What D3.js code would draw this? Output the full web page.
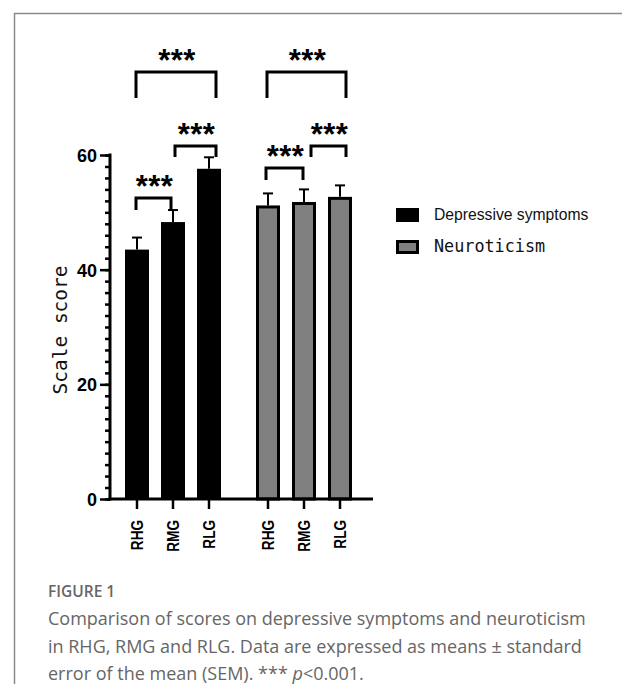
<!DOCTYPE html>
<html>
<head>
<meta charset="utf-8">
<script src="https://cdn.jsdelivr.net/npm/d3@7"></script>
<style>
  html, body { margin: 0; padding: 0; background: #fff; }
  svg { display: block; }
</style>
</head>
<body>
<script>
// ---------- data ----------
const groups = ["Depressive symptoms", "Neuroticism"];
const categories = ["RHG", "RMG", "RLG"];
const depressiveMeans = [43.5, 48.3, 57.6];
const depressiveSEM = [2.1, 2.1, 2.0];
const neuroticismMeans = [51.2, 51.8, 52.7];
const neuroticismSEM = [2.1, 2.2, 2.0];
const yTicks = [0, 20, 40, 60];
const yMinorStep = 2;
const comparisons = [[0, 1], [1, 2], [0, 2]];
const sigLabel = "***";
const yLabel = "Scale score";
const figureLabel = "FIGURE 1";
const captionLines = [
  "Comparison of scores on depressive symptoms and neuroticism",
  "in RHG, RMG and RLG. Data are expressed as means \u00B1 standard"
];

const seriesMeans = [depressiveMeans, neuroticismMeans];
const seriesSEM = [depressiveSEM, neuroticismSEM];
const seriesFill = ["#000000", "#808080"];

// ---------- layout ----------
const W = 622, H = 684;
const svg = d3.select("body").append("svg").attr("width", W).attr("height", H);

// frame lines
svg.append("line").attr("x1", 14).attr("y1", 13.5).attr("x2", W).attr("y2", 13.5)
  .attr("stroke", "#8a8a8a").attr("stroke-width", 1.5);
svg.append("line").attr("x1", 14.5).attr("y1", 13).attr("x2", 14.5).attr("y2", H)
  .attr("stroke", "#8a8a8a").attr("stroke-width", 1.5);

const y = d3.scaleLinear().domain([0, 60]).range([499, 155]);
const xGroup = d3.scaleBand().domain(groups).range([119, 358]).paddingInner(23 / 131).paddingOuter(0);
const xCat = d3.scaleBand().domain(categories).range([0, xGroup.bandwidth()])
  .paddingInner(1 / 3).paddingOuter(1 / 6);
const cx = (g, c) => xGroup(groups[g]) + xCat(categories[c]) + xCat.bandwidth() / 2;

// bars
const barData = [];
groups.forEach((g, gi) => categories.forEach((c, ci) => {
  barData.push({ gi, ci, mean: seriesMeans[gi][ci], sem: seriesSEM[gi][ci] });
}));

const plot = svg.append("g");
const bw = xCat.bandwidth();
plot.selectAll("rect.bar").data(barData).join("rect")
  .attr("class", "bar")
  .attr("x", d => cx(d.gi, d.ci) - bw / 2 + (d.gi === 1 ? 1.5 : 0))
  .attr("width", d => bw - (d.gi === 1 ? 3 : 0))
  .attr("y", d => y(d.mean) + (d.gi === 1 ? 1.5 : 0))
  .attr("height", d => y(0) - y(d.mean) - (d.gi === 1 ? 1.5 : 0))
  .attr("fill", d => seriesFill[d.gi])
  .attr("stroke", d => d.gi === 1 ? "#000" : "none")
  .attr("stroke-width", 3);

// error bars (upper only)
plot.selectAll("line.err").data(barData).join("line")
  .attr("class", "err")
  .attr("x1", d => cx(d.gi, d.ci)).attr("x2", d => cx(d.gi, d.ci))
  .attr("y1", d => y(d.mean)).attr("y2", d => y(d.mean + d.sem))
  .attr("stroke", "#000").attr("stroke-width", 2);
plot.selectAll("line.cap").data(barData).join("line")
  .attr("class", "cap")
  .attr("x1", d => cx(d.gi, d.ci) - 5).attr("x2", d => cx(d.gi, d.ci) + 5)
  .attr("y1", d => y(d.mean + d.sem)).attr("y2", d => y(d.mean + d.sem))
  .attr("stroke", "#000").attr("stroke-width", 2);

// y axis
const yAxis = d3.axisLeft(y).tickValues(d3.range(0, 61, yMinorStep))
  .tickSize(5).tickFormat("");
const yg = svg.append("g").attr("transform", "translate(110,0)").call(yAxis);
yg.select(".domain").remove();
yg.selectAll(".tick line").attr("stroke", "#000").attr("stroke-width", 2.5);
svg.append("line").attr("x1", 110).attr("x2", 110).attr("y1", y(60) - 1.5).attr("y2", y(0) + 1.5)
  .attr("stroke", "#000").attr("stroke-width", 3);
const yMajor = d3.axisLeft(y).tickValues(yTicks).tickSize(10).tickPadding(3).tickFormat(d3.format("d"));
const ym = svg.append("g").attr("transform", "translate(110,0)").call(yMajor);
ym.select(".domain").remove();
ym.selectAll(".tick line").attr("stroke", "#000").attr("stroke-width", 2.5);
ym.selectAll(".tick text").attr("font-family", "Liberation Sans, Arial, sans-serif")
  .attr("font-weight", "bold").attr("font-size", 18).attr("fill", "#000").attr("dy", "0.36em");

// x axis
svg.append("line").attr("x1", 108.5).attr("x2", 373).attr("y1", y(0)).attr("y2", y(0))
  .attr("stroke", "#000").attr("stroke-width", 3);
const xTicks = svg.append("g");
barData.forEach(d => {
  const xx = cx(d.gi, d.ci);
  xTicks.append("line").attr("x1", xx).attr("x2", xx).attr("y1", y(0)).attr("y2", y(0) + 10)
    .attr("stroke", "#000").attr("stroke-width", 2.5);
  xTicks.append("text")
    .attr("transform", `translate(${xx + 5.5},520) rotate(-90) scale(0.85,1)`)
    .attr("text-anchor", "end")
    .attr("font-family", "Liberation Sans, Arial, sans-serif")
    .attr("font-weight", "bold").attr("font-size", 16)
    .text(categories[d.ci]);
});

// y label
svg.append("text")
  .attr("transform", `translate(67,330) rotate(-90)`)
  .attr("text-anchor", "middle")
  .attr("font-family", "DejaVu Sans Mono, monospace")
  .attr("font-size", 19.5)
  .attr("fill", "#111")
  .text(yLabel);

// significance brackets layout (pixels): horizontal y, leg length, end offsets
const bracketLayout = [
  { c: 0, hy: 198, leg: 12, dl: -1, dr: -2 },
  { c: 1, hy: 146, leg: 11, dl: 2, dr: 7 },
  { c: 2, hy: 72, leg: 26, dl: -1, dr: 7 }
];
const bracketLayout2 = [
  { c: 0, hy: 168, leg: 12, dl: -2, dr: -1 },
  { c: 1, hy: 146, leg: 11, dl: 7, dr: 6 },
  { c: 2, hy: 72, leg: 26, dl: -1, dr: 6 }
];
const sig = svg.append("g");
[bracketLayout, bracketLayout2].forEach((layout, gi) => {
  layout.forEach(b => {
    const [a, c] = comparisons[b.c];
    const x1 = cx(gi, a) + b.dl, x2 = cx(gi, c) + b.dr;
    sig.append("path")
      .attr("d", `M${x1},${b.hy + b.leg}V${b.hy}H${x2}V${b.hy + b.leg}`)
      .attr("fill", "none").attr("stroke", "#000").attr("stroke-width", 3)
      .attr("stroke-linejoin", "miter").attr("stroke-linecap", "butt");
    sig.append("text")
      .attr("x", (x1 + x2) / 2 + 1).attr("y", b.hy - 1)
      .attr("text-anchor", "middle")
      .attr("font-family", "Liberation Sans, Arial, sans-serif")
      .attr("font-weight", "bold").attr("font-size", 31)
      .attr("letter-spacing", 0.5)
      .text(sigLabel);
  });
});

// legend
const legend = svg.append("g");
groups.forEach((g, i) => {
  const ly = 208 + i * 32;
  legend.append("rect")
    .attr("x", 396 + (i === 1 ? 1.5 : 0)).attr("y", ly + (i === 1 ? 1.5 : 0))
    .attr("width", 23 - (i === 1 ? 3 : 0)).attr("height", 14 - (i === 1 ? 3 : 0))
    .attr("fill", seriesFill[i]).attr("stroke", i === 1 ? "#000" : "none").attr("stroke-width", 3);
  legend.append("text")
    .attr("x", 434).attr("y", ly + 12)
    .attr("font-family", i === 0 ? "Liberation Sans, Arial, sans-serif" : "DejaVu Sans Mono, monospace")
    .attr("font-size", i === 0 ? 15.7 : 16.8)
    .attr("fill", "#111")
    .text(g);
});

// caption
const cap = svg.append("g").attr("font-family", "Open Sans, Noto Sans, sans-serif").attr("fill", "#666");
cap.append("text").attr("x", 48).attr("y", 597).attr("font-size", 15.5).attr("font-weight", 600)
  .text(figureLabel);
captionLines.forEach((t, i) => {
  cap.append("text").attr("x", 48).attr("y", 625 + i * 27.5).attr("font-size", 18).text(t);
});
const last = cap.append("text").attr("x", 48).attr("y", 679.5).attr("font-size", 18);
last.append("tspan").text("error of the mean (SEM). *** ");
last.append("tspan").attr("font-style", "italic").text("p");
last.append("tspan").text("<0.001.");
</script>
</body>
</html>
